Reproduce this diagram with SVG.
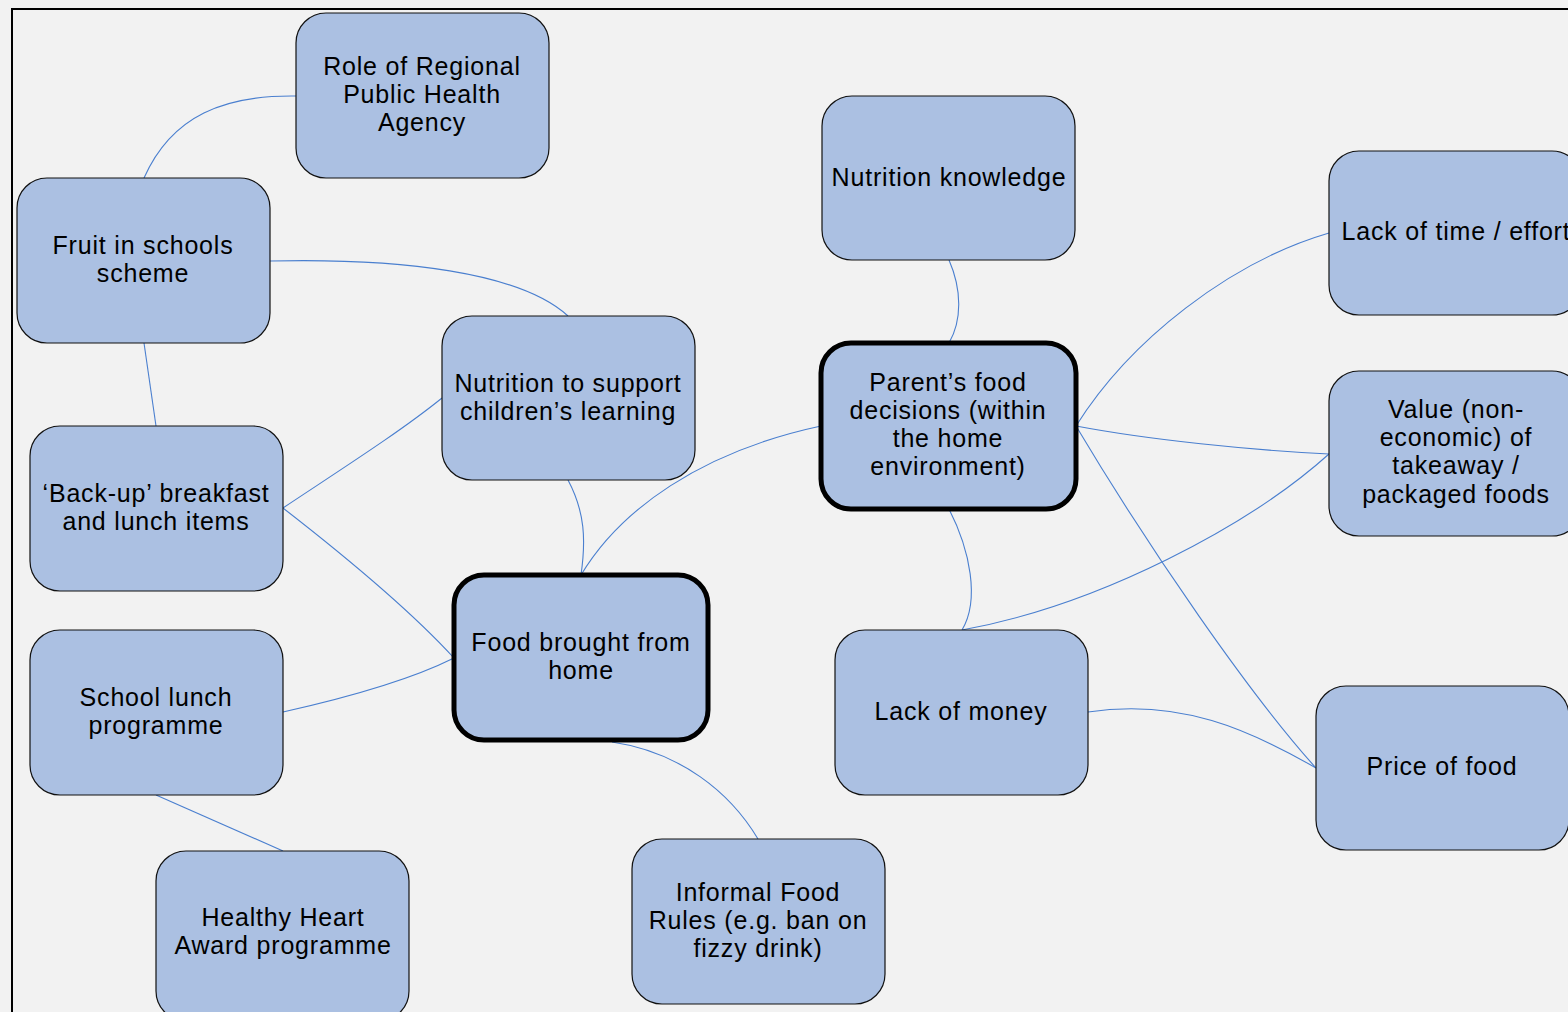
<svg xmlns="http://www.w3.org/2000/svg" width="1568" height="1012" viewBox="0 0 1568 1012">
<style>
.bg{fill:#f2f2f2}
.frame{fill:none;stroke:#000;stroke-width:2}
.n{fill:#abc0e2;stroke:#111;stroke-width:1.2}
.b{fill:#abc0e2;stroke:#000;stroke-width:5}
.c{fill:none;stroke:#4a7fcf;stroke-width:1.1}
text{font-family:"Liberation Sans",Arial,sans-serif;font-size:25px;letter-spacing:0.8px;fill:#000;text-anchor:middle}
</style>
<rect class="bg" x="0" y="0" width="1568" height="1012"/>
<path class="frame" d="M12,1012 V9 H1568"/>
<g id="connectors">
<path class="c" d="M296,96 C225,95 172,115 144,178"/>
<path class="c" d="M270,261 C400,258 520,272 568,316"/>
<path class="c" d="M144,343 L156,426"/>
<path class="c" d="M283,508 C340,470 400,432 442,398"/>
<path class="c" d="M283,508 C350,560 410,610 454,658"/>
<path class="c" d="M283,712 C350,697 410,680 454,658"/>
<path class="c" d="M156,795 L283,851"/>
<path class="c" d="M568,480 C585,512 586,540 581,575"/>
<path class="c" d="M821,426 C700,452 620,510 581,575"/>
<path class="c" d="M612,742 C680,752 730,792 758,839"/>
<path class="c" d="M949,260 C962,290 962,320 949,343"/>
<path class="c" d="M949,509 C970,550 980,600 962,630"/>
<path class="c" d="M1076,426 C1130,340 1230,262 1329,233"/>
<path class="c" d="M1076,426 C1150,440 1250,450 1329,454"/>
<path class="c" d="M1076,426 C1150,550 1250,695 1316,768"/>
<path class="c" d="M1329,454 C1250,525 1100,605 962,630"/>
<path class="c" d="M1088,712 C1180,698 1250,730 1316,768"/>
</g>
<g id="role">
<rect class="n" x="296" y="13" width="253" height="165" rx="30"/>
<text x="422" y="75">Role of Regional</text>
<text x="422" y="103">Public Health</text>
<text x="422" y="131">Agency</text>
</g>
<g id="fruit">
<rect class="n" x="17" y="178" width="253" height="165" rx="30"/>
<text x="143" y="254">Fruit in schools</text>
<text x="143" y="282">scheme</text>
</g>
<g id="nutrition-learning">
<rect class="n" x="442" y="316" width="253" height="164" rx="30"/>
<text x="568" y="392">Nutrition to support</text>
<text x="568" y="420">children’s learning</text>
</g>
<g id="backup">
<rect class="n" x="30" y="426" width="253" height="165" rx="30"/>
<text x="156" y="502">‘Back-up’ breakfast</text>
<text x="156" y="530">and lunch items</text>
</g>
<g id="school-lunch">
<rect class="n" x="30" y="630" width="253" height="165" rx="30"/>
<text x="156" y="706">School lunch</text>
<text x="156" y="734">programme</text>
</g>
<g id="healthy-heart">
<rect class="n" x="156" y="851" width="253" height="170" rx="30"/>
<text x="283" y="926">Healthy Heart</text>
<text x="283" y="954">Award programme</text>
</g>
<g id="food-home">
<rect class="b" x="454" y="575" width="254" height="165" rx="30"/>
<text x="581" y="651">Food brought from</text>
<text x="581" y="679">home</text>
</g>
<g id="informal">
<rect class="n" x="632" y="839" width="253" height="165" rx="30"/>
<text x="758" y="901">Informal Food</text>
<text x="758" y="929">Rules (e.g. ban on</text>
<text x="758" y="957">fizzy drink)</text>
</g>
<g id="nutrition-knowledge">
<rect class="n" x="822" y="96" width="253" height="164" rx="30"/>
<text x="949" y="186">Nutrition knowledge</text>
</g>
<g id="parent">
<rect class="b" x="821" y="343" width="255" height="166" rx="30"/>
<text x="948" y="391">Parent’s food</text>
<text x="948" y="419">decisions (within</text>
<text x="948" y="447">the home</text>
<text x="948" y="475">environment)</text>
</g>
<g id="lack-money">
<rect class="n" x="835" y="630" width="253" height="165" rx="30"/>
<text x="961" y="720">Lack of money</text>
</g>
<g id="lack-time">
<rect class="n" x="1329" y="151" width="253" height="164" rx="30"/>
<text x="1456" y="240">Lack of time / effort</text>
</g>
<g id="value">
<rect class="n" x="1329" y="371" width="253" height="165" rx="30"/>
<text x="1456" y="418">Value (non-</text>
<text x="1456" y="446">economic) of</text>
<text x="1456" y="474">takeaway /</text>
<text x="1456" y="503">packaged foods</text>
</g>
<g id="price">
<rect class="n" x="1316" y="686" width="253" height="164" rx="30"/>
<text x="1442" y="775">Price of food</text>
</g>
</svg>
